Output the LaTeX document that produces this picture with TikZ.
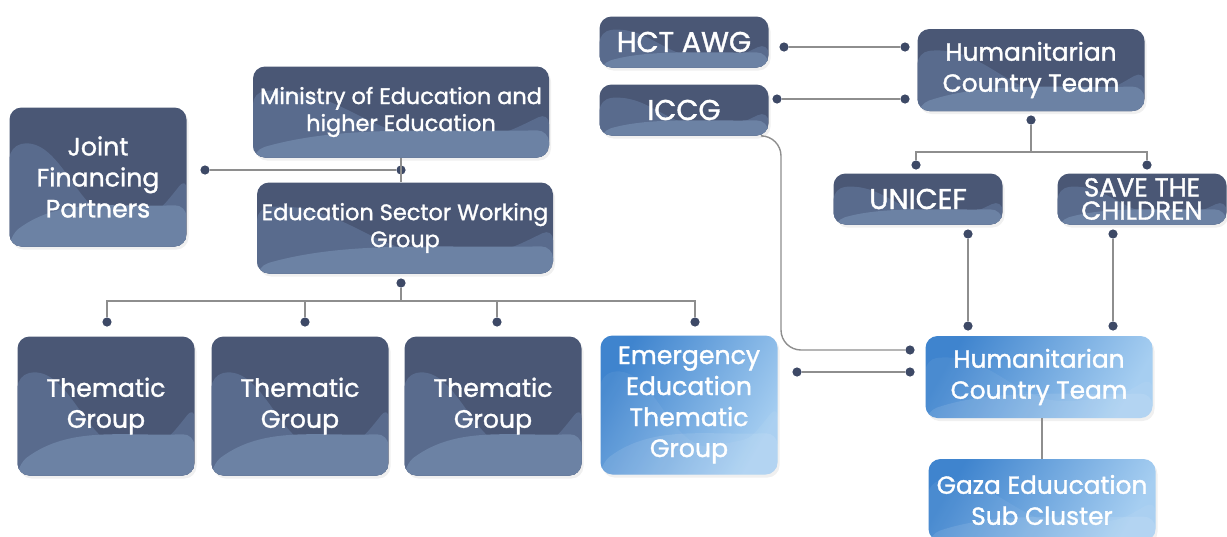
\documentclass[tikz,border=0pt]{standalone}
\usepackage{fontspec}
\setmainfont{Poppins}[FakeBold=1.3]
\usetikzlibrary{calc,shadows}

\definecolor{slate}{HTML}{4A5775}
\definecolor{slatemid}{HTML}{596B8D}
\definecolor{slatelt}{HTML}{6C82A4}
\definecolor{bluedk}{HTML}{3F84CE}
\definecolor{bluelt}{HTML}{A6CEF1}
\definecolor{linkgray}{HTML}{8E8E8E}
\definecolor{dotcol}{HTML}{3D4966}

% wave inside a box: #1 upper wave, #2 lower wave
\newcommand{\wavefill}[2]{%
  \fill[#1] let \p1=(path picture bounding box.south west),
    \p2=(path picture bounding box.north east) in
    (\x1,{\y1+0.72*(\y2-\y1)}) .. controls ({\x1+0.3*(\x2-\x1)},{\y1+0.8*(\y2-\y1)}) and ({\x1+0.4*(\x2-\x1)},{\y1+0.15*(\y2-\y1)}) .. ({\x1+0.7*(\x2-\x1)},{\y1+0.22*(\y2-\y1)}) .. controls ({\x1+0.85*(\x2-\x1)},{\y1+0.26*(\y2-\y1)}) .. (\x2,{\y1+0.5*(\y2-\y1)}) -- (\x2,\y1) -- (\x1,\y1) -- cycle;
  \fill[#2] let \p1=(path picture bounding box.south west),
    \p2=(path picture bounding box.north east) in
    (\x1,{\y1+0.08*(\y2-\y1)}) .. controls ({\x1+0.3*(\x2-\x1)},{\y1+0.36*(\y2-\y1)}) and ({\x1+0.6*(\x2-\x1)},{\y1+0.28*(\y2-\y1)}) .. (\x2,{\y1+0.3*(\y2-\y1)}) -- (\x2,\y1) -- (\x1,\y1) -- cycle;
}

\begin{document}
\begin{tikzpicture}[x=0.5pt,y=-0.5pt,
    box/.style={rounded corners=6pt,text=white,align=center,inner sep=0pt,
      drop shadow={opacity=0.12,shadow xshift=1pt,shadow yshift=-1.5pt}},
    darkbox/.style={box,fill=slate,path picture={\wavefill{slatemid}{slatelt}}},
    bluebox/.style={box,left color=bluedk,right color=bluelt,shading angle=60,
      path picture={\wavefill{white,opacity=0.06}{white,opacity=0.1}}},
    tile/.style={minimum width=88.5pt,minimum height=69.5pt},
    wide/.style={minimum width=148pt,minimum height=45.5pt},
    tag/.style={minimum width=84.5pt,minimum height=25.5pt},
    team/.style={minimum width=113.5pt,minimum height=41pt},
    ftag/.style={font=\fontsize{14.3}{16}\selectfont},
    fsave/.style={font=\fontsize{13}{11.6}\selectfont},
    fteam/.style={font=\fontsize{12.4}{15.5}\selectfont},
    ftile/.style={font=\fontsize{12.6}{15.5}\selectfont},
    fwide/.style={font=\fontsize{11.2}{13.5}\selectfont},
    link/.style={draw=linkgray,line width=0.7pt},
    dot/.style={circle,fill=dotcol,inner sep=0pt,minimum size=4.6pt}]
	\useasboundingbox (0,0) rectangle (1227,536);
	
	% left block
	\node (jfp) at (98,177)[darkbox,tile,ftile]{Joint\\Financing\\Partners};
	\node (moe) at (401,112)[darkbox,wide,fwide]{Ministry of Education and\\higher Education};
	\node (eswg) at (405,228)[darkbox,wide,fwide]{Education Sector Working\\Group};
	\node (tg1) at (106,406)[darkbox,tile,ftile]{Thematic\\Group};
	\node (tg2) at (300,406)[darkbox,tile,ftile]{Thematic\\Group};
	\node (tg3) at (493,406)[darkbox,tile,ftile]{Thematic\\Group};
	\node (eetg) at (689,405)[bluebox,tile,ftile]{Emergency\\Education\\Thematic\\Group};
	
	% right block
	\node (awg) at (684,42)[darkbox,tag,ftag]{HCT AWG};
	\node (iccg) at (684,110)[darkbox,tag,ftag]{ICCG};
	\node (hct) at (1031,70)[darkbox,team,fteam]{Humanitarian\\Country Team};
	\node (unicef) at (918,199)[darkbox,tag,ftag]{UNICEF};
	\node (stc) at (1142,199)[darkbox,tag,fsave]{SAVE THE\\CHILDREN};
	\node (hctb) at (1039,377)[bluebox,team,fteam]{Humanitarian\\Country Team};
	\node (gaza) at (1042,500)[bluebox,team,fteam]{Gaza Eduucation\\Sub Cluster};
	
	% dots
	\node (d-jfp) at (205,170)[dot]{};
	\node (d-moe) at (401,170)[dot]{};
	\node (d-eswg) at (401,283)[dot]{};
	\node (d-tg1) at (107,322)[dot]{};
	\node (d-tg2) at (305,322)[dot]{};
	\node (d-tg3) at (497,322)[dot]{};
	\node (d-eetg) at (695,322)[dot]{};
	\coordinate (j-eswg) at (401,301);
	
	\node (d-awg) at (784,47)[dot]{};
	\node (d-hct1) at (905,47)[dot]{};
	\node (d-iccg) at (777,99)[dot]{};
	\node (d-hct2) at (905,99)[dot]{};
	\node (d-hct) at (1031,120)[dot]{};
	\coordinate (j-hct) at (1031,152);
	\node (d-uni1) at (916,165)[dot]{};
	\node (d-stc1) at (1147,165)[dot]{};
	\node (d-uni2) at (968,234)[dot]{};
	\node (d-hctb1) at (968,326)[dot]{};
	\node (d-stc2) at (1113,234)[dot]{};
	\node (d-hctb2) at (1113,326)[dot]{};
	\node (d-hctb3) at (910,350)[dot]{};
	\coordinate (bend) at (781,350);
	\node (d-eetg2) at (797,372)[dot]{};
	\node (d-hctb4) at (910,372)[dot]{};
	
	% links
	\draw[link] (d-jfp) -- (d-moe);
	\draw[link] (moe.south) -- (moe.south |- eswg.north);
	\draw[link] (d-eswg) -- (j-eswg);
	\draw[link] (d-tg1) |- (j-eswg);
	\draw[link] (d-tg2) |- (j-eswg);
	\draw[link] (d-tg3) |- (j-eswg);
	\draw[link] (d-eetg) |- (j-eswg);
	
	\draw[link] (d-awg) -- (d-hct1);
	\draw[link] (d-iccg) -- (d-hct2);
	\draw[link] (d-hct) -- (j-hct);
	\draw[link] (d-uni1) |- (j-hct);
	\draw[link] (d-stc1) |- (j-hct);
	\draw[link] (d-uni2) -- (d-hctb1);
	\draw[link] (d-stc2) -- (d-hctb2);
	\draw[link,rounded corners=10pt] ([xshift=-3pt]iccg.south east) -| (bend) -- (d-hctb3);
	\draw[link] (d-eetg2) -- (d-hctb4);
	\draw[link] (hctb.south -| gaza.north) -- (gaza.north);
	
\end{tikzpicture}
\end{document}
